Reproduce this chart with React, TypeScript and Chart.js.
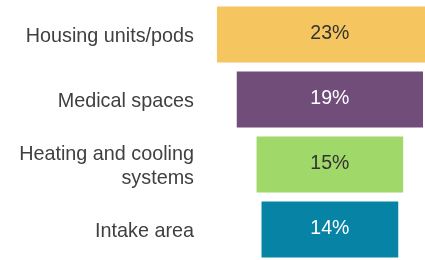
import React, { useEffect, useRef } from "react";
import { Chart, registerables } from "chart.js";

Chart.register(...registerables);

const categories: (string | string[])[] = [
  "Housing units/pods",
  "Medical spaces",
  ["Heating and cooling", "systems"],
  "Intake area",
];
const values: number[] = [23, 19, 15, 14];
const valueLabels: string[] = ["23%", "19%", "15%", "14%"];
const barColors: string[] = ["#F5C55F", "#714D7A", "#A0D86A", "#0784A5"];
const labelColors: string[] = ["#333333", "#FFFFFF", "#333333", "#FFFFFF"];

const FONT = "'Liberation Sans', Arial, sans-serif";

export default function App() {
  const ref = useRef<HTMLCanvasElement | null>(null);

  useEffect(() => {
    if (!ref.current) return;
    const valuePlugin = {
      id: "valueLabels",
      afterDatasetsDraw(chart: any) {
        const ctx = chart.ctx;
        const meta = chart.getDatasetMeta(0);
        ctx.save();
        ctx.font = `19.5px ${FONT}`;
        ctx.textAlign = "center";
        ctx.textBaseline = "middle";
        meta.data.forEach((bar: any, i: number) => {
          const { x, base, y } = bar.getProps(["x", "base", "y"], true);
          const cx = (x + base) / 2;
          ctx.fillStyle = labelColors[i];
          ctx.fillText(valueLabels[i], cx, y - 1);
        });
        ctx.restore();
      },
    };
    const chart = new Chart(ref.current, {
      type: "bar",
      data: {
        labels: categories,
        datasets: [
          {
            data: values.map((v) => [-v / 2, v / 2]) as any,
            backgroundColor: barColors,
            borderColor: "rgba(255,255,255,0.45)",
            borderWidth: 1,
            borderSkipped: false,
            barPercentage: 0.892,
            categoryPercentage: 1,
          },
        ],
      },
      options: {
        indexAxis: "y",
        animation: false,
        responsive: true,
        maintainAspectRatio: false,
        layout: { padding: { top: 2, left: 0, right: 0, bottom: 0 } },
        plugins: {
          legend: { display: false },
          tooltip: { enabled: false },
        },
        scales: {
          x: {
            display: false,
            min: -12.1,
            max: 9.6,
          },
          y: {
            grid: { display: false, drawTicks: false },
            border: { display: false },
            ticks: {
              color: "#404040",
              font: { family: FONT, size: 19.8, lineHeight: 1.2 },
              padding: 16,
              labelOffset: 2,
              autoSkip: false,
            },
            afterFit(scale: any) {
              scale.width = 210;
              scale.paddingTop = 0;
              scale.paddingBottom = 0;
            },
          },
        },
      },
      plugins: [valuePlugin],
    });
    return () => chart.destroy();
  }, []);

  return (
    <div
      style={{
        position: "fixed",
        left: 0,
        top: 0,
        width: 425,
        height: 260,
        overflow: "hidden",
        background: "#fff",
      }}
    >
      <div style={{ position: "relative", width: 425, height: 262 }}>
        <canvas ref={ref} />
      </div>
    </div>
  );
}
